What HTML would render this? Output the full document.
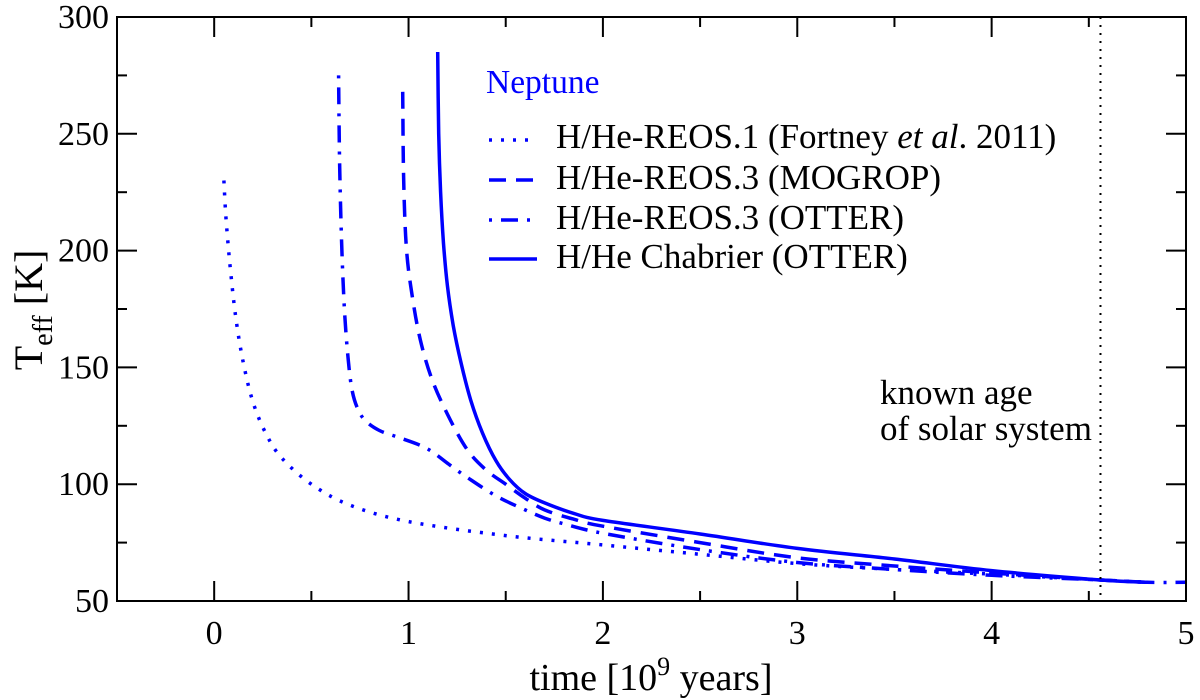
<!DOCTYPE html>
<html><head><meta charset="utf-8"><style>
body{margin:0;background:#fff}
svg{display:block;font-family:"Liberation Serif",serif}
</style></head><body>
<svg id="chart" width="1200" height="700" viewBox="0 0 1200 700" xmlns="http://www.w3.org/2000/svg">
<g id="plot"></g>
<g id="axes"></g>
<text transform="translate(42,310) rotate(-90)" text-anchor="middle" font-size="40">T<tspan font-size="28" dy="10">eff</tspan><tspan dy="-10"> [K]</tspan></text>
<text x="651" y="690" text-anchor="middle" font-size="38">time [10<tspan font-size="26" dy="-15">9</tspan><tspan dy="15"> years]</tspan></text>
<g>
<text x="486" y="93" font-size="33.5" fill="#0000ff">Neptune</text>
<line x1="489" y1="140" x2="537" y2="140" stroke="#0000ff" stroke-width="3.5" stroke-dasharray="3,9"/>
<text x="556" y="148" font-size="35">H/He-REOS.1 (Fortney <tspan font-style="italic">et al</tspan>. 2011)</text>
<line x1="489" y1="180" x2="537" y2="180" stroke="#0000ff" stroke-width="3.5" stroke-dasharray="17,10"/>
<text x="556" y="189" font-size="35">H/He-REOS.3 (MOGROP)</text>
<line x1="489" y1="220" x2="537" y2="220" stroke="#0000ff" stroke-width="3.5" stroke-dasharray="3,9,17,9"/>
<text x="556" y="229" font-size="35">H/He-REOS.3 (OTTER)</text>
<line x1="489" y1="259" x2="537" y2="259" stroke="#0000ff" stroke-width="3.5"/>
<text x="556" y="268" font-size="35">H/He Chabrier (OTTER)</text>
</g>
<text font-size="35"><tspan x="880" y="404">known age</tspan><tspan x="880" y="440">of solar system</tspan></text>
</svg>
<script>
const xTicks=[0,1,2,3,4,5];
const yTicks=[50,100,150,200,250,300];
const solarAge=4.56;
const reos1T=[0.05,0.06,0.08,0.11,0.15,0.2,0.27,0.35,0.5,0.7,1,1.5,2,2.5,3,3.5,4,4.56,4.8];
const reos1V=[230,215,195,172,152,135,121,111,100,91,84,78,74,70,66,63.5,61.5,59,58];
const otterT=[0.64,0.645,0.655,0.67,0.69,0.71,0.74,0.78,0.85,0.95,1.05,1.12,1.2,1.3,1.45,1.6,1.7,1.8,2,2.5,3,3.5,4,4.56,4.8,5];
const otterV=[275,240,205,175,153,140,132,127,123,120,117,114,109,103,95,89,85.5,83,79,72,66.5,63.5,61,59,58,58];
const mogropT=[0.97,0.975,0.99,1.02,1.06,1.12,1.2,1.3,1.4,1.5,1.6,1.7,1.85,2,2.5,3,3.5,4,4.56,4.8];
const mogropV=[268,230,200,180,162,145,130,115,106,100,94,89,85,82,75,68.5,65,62,59,58];
const chabT=[1.15,1.155,1.165,1.18,1.2,1.23,1.27,1.32,1.38,1.45,1.52,1.6,1.7,1.85,2,2.5,3,3.5,4,4.56,4.8];
const chabV=[285,250,225,203,185,168,152,136,122,110,102,96,92,87.5,84.5,78.7,72.5,68,63,59,58];

const L=117,R=1186,T=17,B=601,xmin=-0.5,xmax=5,ymin=50,ymax=300;
const sx=v=>L+(v-xmin)/(xmax-xmin)*(R-L);
const sy=v=>B-(v-ymin)/(ymax-ymin)*(B-T);
const NS='http://www.w3.org/2000/svg';
const plot=document.getElementById('plot'),axes=document.getElementById('axes');
function mk(tag,attrs,parent){const e=document.createElementNS(NS,tag);for(const k in attrs)e.setAttribute(k,attrs[k]);parent.appendChild(e);return e;}
function smoothPath(pts){
  let d='M'+pts[0][0].toFixed(1)+','+pts[0][1].toFixed(1);
  for(let i=0;i<pts.length-1;i++){
    const p0=pts[Math.max(0,i-1)],p1=pts[i],p2=pts[i+1],p3=pts[Math.min(pts.length-1,i+2)];
    const c1=[p1[0]+(p2[0]-p0[0])/6,p1[1]+(p2[1]-p0[1])/6];
    const c2=[p2[0]-(p3[0]-p1[0])/6,p2[1]-(p3[1]-p1[1])/6];
    d+=' C'+c1.map(v=>v.toFixed(1)).join(',')+' '+c2.map(v=>v.toFixed(1)).join(',')+' '+p2[0].toFixed(1)+','+p2[1].toFixed(1);
  }
  return d;
}
function series(ts,vs,dash,name){
  const pts=ts.map((t,i)=>[sx(t),sy(vs[i])]);
  const p=mk('path',{d:smoothPath(pts),fill:'none',stroke:'#0000ff','stroke-width':3.5,'stroke-dasharray':dash},plot);
  
  
}
series(reos1T,reos1V,'3,9','series-reos1-fortney');
series(otterT,otterV,'3,9,17,9','series-reos3-otter');
series(mogropT,mogropV,'17,10','series-reos3-mogrop');
series(chabT,chabV,'none','series-chabrier-otter');
const vl=mk('line',{x1:sx(solarAge),x2:sx(solarAge),y1:T,y2:B,stroke:'#000','stroke-width':2,'stroke-dasharray':'2,6'},plot);


const fr=mk('rect',{x:L,y:T,width:R-L,height:B-T,fill:'none',stroke:'#000','stroke-width':2},axes);


for(let v=-0.5;v<=5.001;v+=0.5){
  const major=Math.abs(v-Math.round(v))<1e-6, len=major?20:10, x=sx(v);
  mk('line',{x1:x,x2:x,y1:B,y2:B-len,stroke:'#000','stroke-width':2},axes);
  mk('line',{x1:x,x2:x,y1:T,y2:T+len,stroke:'#000','stroke-width':2},axes);
}
for(let v=50;v<=300;v+=25){
  const major=v%50===0, len=major?20:10, y=sy(v);
  mk('line',{x1:L,x2:L+len,y1:y,y2:y,stroke:'#000','stroke-width':2},axes);
  mk('line',{x1:R,x2:R-len,y1:y,y2:y,stroke:'#000','stroke-width':2},axes);
}
xTicks.forEach(v=>{
  const t=mk('text',{x:sx(v),y:B+43,'text-anchor':'middle','font-size':34},axes);
  t.textContent=v;
  
  
});
yTicks.forEach(v=>{
  const t=mk('text',{x:L-8,y:sy(v)+11,'text-anchor':'end','font-size':34},axes);
  t.textContent=v;
  
  
});
</script>
</body></html>
